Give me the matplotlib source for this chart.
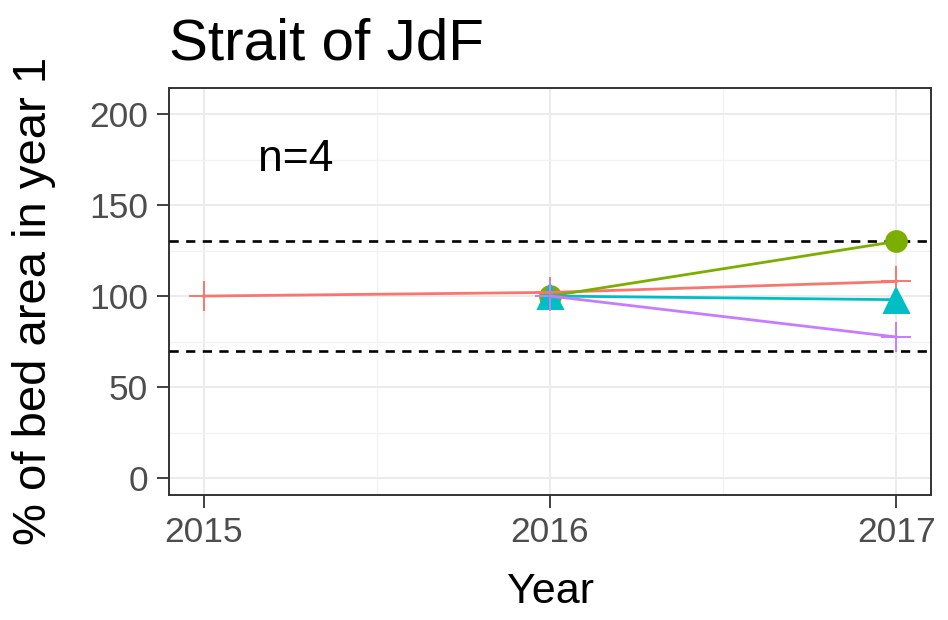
import matplotlib
matplotlib.use("Agg")
import matplotlib.pyplot as plt

red_years = [2015, 2016, 2017]
red_vals = [100, 102, 108]
green_years = [2016, 2017]
green_vals = [100, 130]
cyan_years = [2016, 2017]
cyan_vals = [100, 98]
purple_years = [2016, 2017]
purple_vals = [100, 77.5]
ref_lines = [130, 70]
xticks = [2015, 2016, 2017]
yticks = [0, 50, 100, 150, 200]

plt.rcParams['font.family'] = ['Liberation Sans', 'DejaVu Sans']
W, H = 948, 620
L, R, T, B = 169, 931, 88, 495
fig = plt.figure(figsize=(W/100, H/100), dpi=100)
ax = fig.add_axes([L/W, 1-B/H, (R-L)/W, (B-T)/H])

for v in ref_lines:
    ax.axhline(v, color='black', linestyle=(0, (3.5, 2.8)), lw=1.9, zorder=3)

series = [
    (red_years, red_vals, '#F8766D', '+', 22),
    (green_years, green_vals, '#7CAE00', 'o', 15),
    (cyan_years, cyan_vals, '#00BFC4', '^', 18),
    (purple_years, purple_vals, '#C77CFF', '+', 22),
]
for xs, ys, c, m, ms in series:
    ax.plot(xs, ys, color=c, lw=2.0, zorder=5)
for xs, ys, c, m, ms in series:
    ax.plot(xs, ys, ls='none', color=c, marker=m, ms=ms, mew=1.4, zorder=4)

ax.text(2015.156, 168.7, 'n=4', fontsize=32, va='baseline', ha='left')

ax.set_xlim(2014.9, 2017.1)
ax.set_ylim(-9.3, 214.3)
ax.set_xticks(xticks)
ax.set_xticklabels([str(x) for x in xticks])
ax.set_yticks(yticks)
ax.set_xticks([2015.5, 2016.5], minor=True)
ax.set_yticks([25, 75, 125, 175], minor=True)
ax.grid(which='major', color='#EBEBEB', lw=1.4, zorder=0)
ax.grid(which='minor', color='#F2F2F2', lw=0.9, zorder=0)
ax.set_axisbelow(True)
for s in ax.spines.values():
    s.set_color('#333333')
    s.set_linewidth(1.4)
ax.tick_params(which='major', colors='#333333', labelcolor='#4D4D4D', labelsize=25.5,
               length=9, width=1.3, pad=6)
ax.tick_params(which='minor', length=0)

xl = ax.set_xlabel('Year', fontsize=31)
xl.set_va('baseline')
ax.xaxis.set_label_coords((550-L)/(R-L), (B-603)/(B-T))
yl = ax.set_ylabel('% of bed area in year 1', fontsize=34)
yl.set_va('center')
ax.yaxis.set_label_coords((34-L)/(R-L), (B-301)/(B-T))

fig.text(L/W, 1-60/H, 'Strait of JdF', fontsize=42, ha='left', va='baseline')

fig.savefig('out.png', dpi=100)
